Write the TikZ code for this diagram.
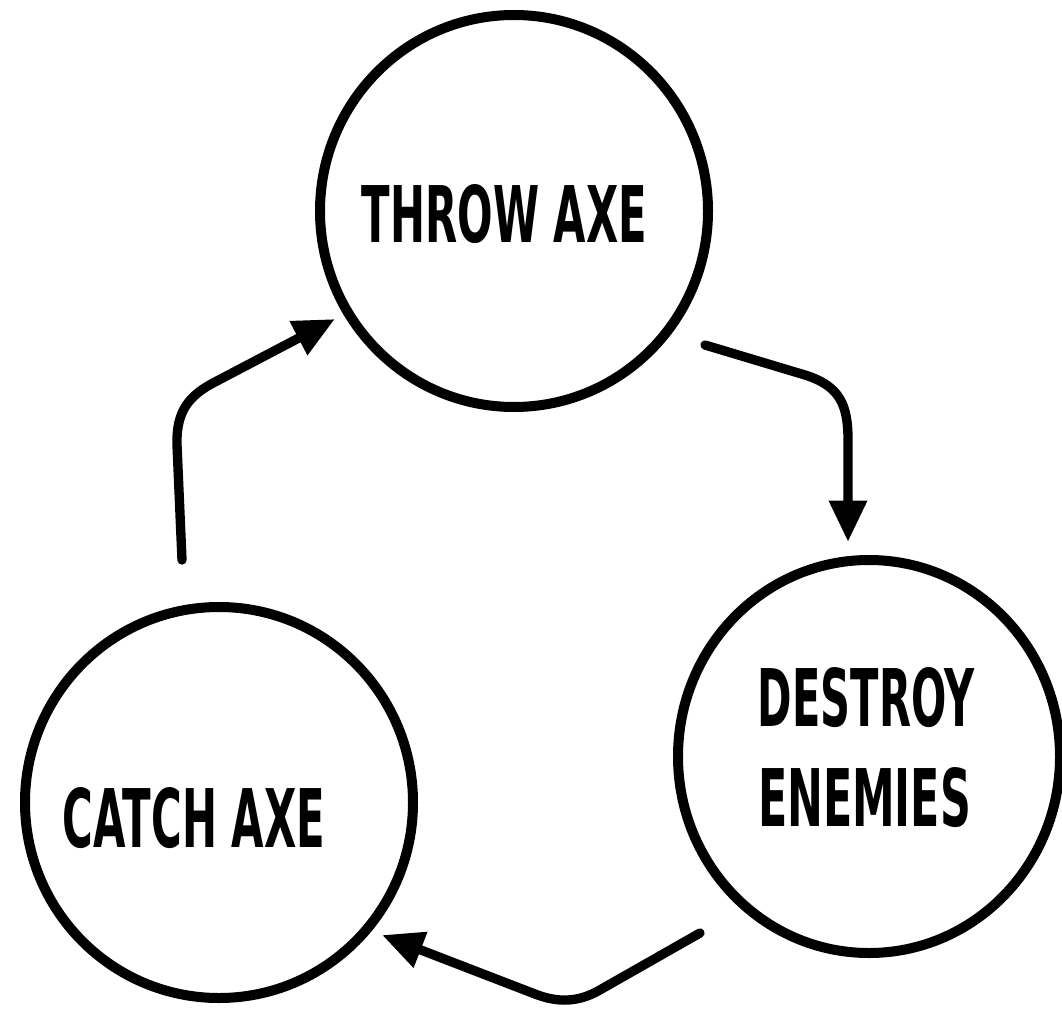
\documentclass[tikz,border=0pt]{standalone}
\usepackage{fontspec}
\usepackage{graphicx}
\newfontfamily\bebas{DejaVu Sans}
\newcommand{\capsbox}[3]{\resizebox{#1}{#2}{\bebas\bfseries #3}}
\usetikzlibrary{arrows.meta,shapes.geometric}
\begin{document}
\begin{tikzpicture}[x=0.75pt,y=-0.75pt,
  ring/.style={ellipse, draw, line width=7.5pt, inner sep=0pt},
  flow/.style={line width=7pt, line cap=round, -{Triangle[length=31pt,width=27pt]}},
  lbl/.style={font=\fontsize{10}{75}\selectfont, inner sep=0pt, align=left}]
\useasboundingbox (0,0) rectangle (1062,1009);
% circles
\node[ring, minimum width=291pt, minimum height=294pt] (throw) at (514,211) {};
\node[ring, minimum width=286.5pt, minimum height=294.75pt] (destroy) at (869,756.5) {};
\node[ring, minimum width=291pt, minimum height=293.25pt] (catch) at (219,802.5) {};
% labels
\node[lbl] (tthrow) at (504.5,214) {\capsbox{213.75pt}{43.5pt}{THROW AXE}};
\node[lbl] (tdestroy) at (866.5,747.5) {\capsbox{162.75pt}{44.25pt}{DESTROY}\\\capsbox{159.75pt}{44.25pt}{ENEMIES}};
\node[lbl] (tcatch) at (194,818) {\capsbox{196.5pt}{45pt}{CATCH AXE}};
% connector ends
\coordinate (a1s) at (705,345);
\coordinate (a1e) at (848,542);
\coordinate (a2s) at (700,933);
\coordinate (a2e) at (382,935);
\coordinate (a3s) at (182,560);
\coordinate (a3e) at (335,319);
% connectors
\draw[flow] (a1s) -- (805,375) .. controls (840,386) and (848,405) .. (848,440) -- (a1e);
\draw[flow] (a2s) -- (598,991) .. controls (578,1002) and (558,1003) .. (535,994) -- (a2e);
\draw[flow] (a3s) -- (177,445) .. controls (176,410) and (190,395) .. (215,382) -- (a3e);
\end{tikzpicture}
\end{document}
